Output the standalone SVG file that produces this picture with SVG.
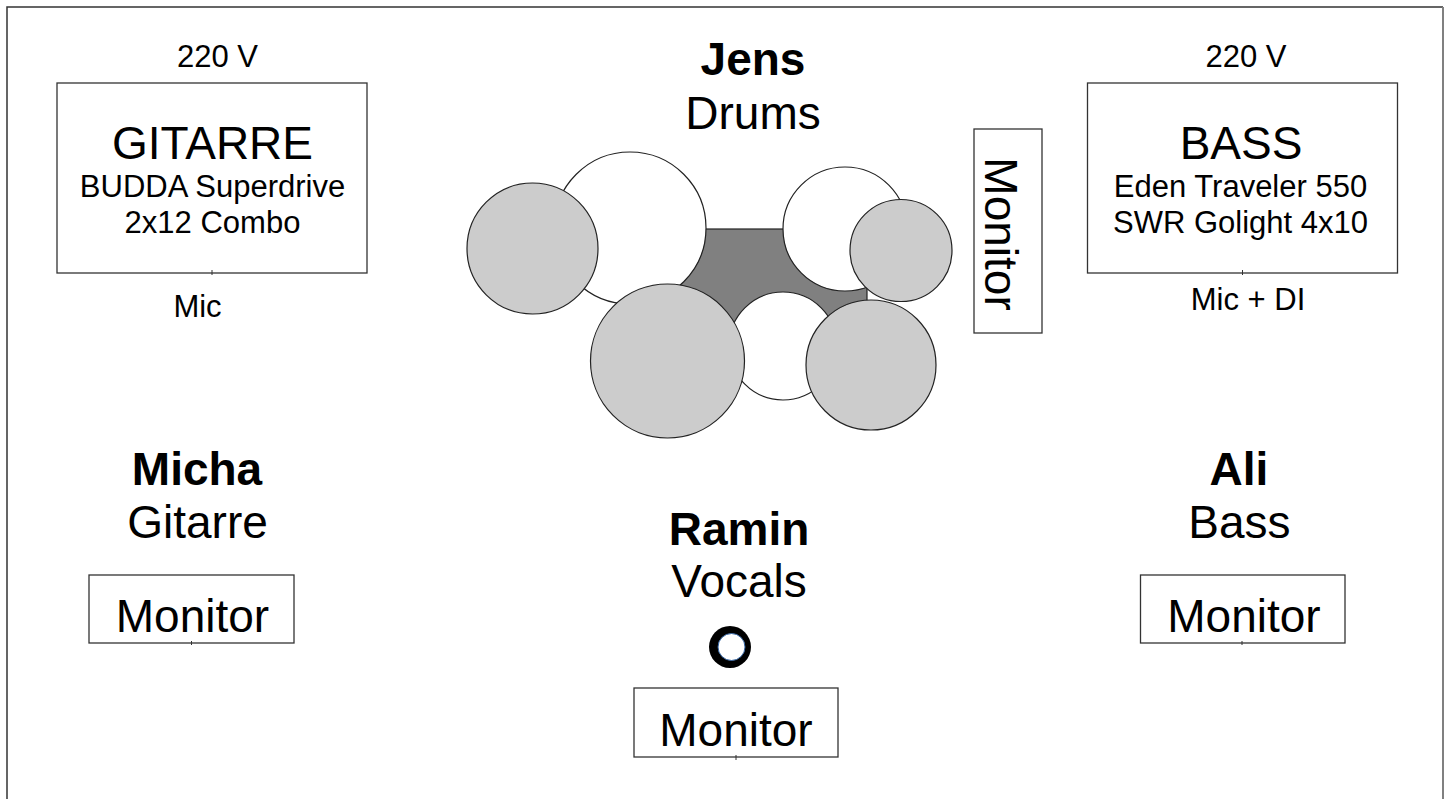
<svg xmlns="http://www.w3.org/2000/svg" width="1450" height="799" viewBox="0 0 1450 799">
<style>
text{font-family:"Liberation Sans",Arial,sans-serif;fill:#000;text-anchor:middle}
.big{font-size:46px}
.sm{font-size:31px}
.b{font-weight:bold}
.box{fill:#fff;stroke:#333;stroke-width:1.3}
.dw{fill:#fff;stroke:#222;stroke-width:1.2}
.dg{fill:#cccccc;stroke:#222;stroke-width:1.2}
.tick{stroke:#333;stroke-width:1}
</style>
<rect x="0" y="0" width="1450" height="799" fill="#fff"/>
<g id="frame">
<path d="M7,799 V7 H1443" fill="none" stroke="#333" stroke-width="1.5"/>
<path d="M1443,7 V799" fill="none" stroke="#808080" stroke-width="2"/>
</g>
<g id="guitar-amp">
<text class="sm" x="217.5" y="67">220 V</text>
<rect class="box" x="57" y="83" width="310" height="190"/>
<line class="tick" x1="212" y1="270" x2="212" y2="275"/>
<text class="big" x="212.5" y="159">GITARRE</text>
<text class="sm" x="212.5" y="197">BUDDA Superdrive</text>
<text class="sm" x="212.5" y="233">2x12 Combo</text>
<text class="sm" x="197.5" y="317">Mic</text>
</g>
<g id="bass-amp">
<text class="sm" x="1246" y="67">220 V</text>
<rect class="box" x="1087.5" y="83" width="310" height="190"/>
<line class="tick" x1="1242.5" y1="270" x2="1242.5" y2="275"/>
<text class="big" x="1241" y="159">BASS</text>
<text class="sm" x="1240.5" y="197">Eden Traveler 550</text>
<text class="sm" x="1240.5" y="233">SWR Golight 4x10</text>
<text class="sm" x="1248" y="310">Mic + DI</text>
</g>
<g id="drummer">
<text class="big b" x="753" y="75">Jens</text>
<text class="big" x="753" y="129">Drums</text>
</g>
<g id="drumkit">
<rect x="680" y="229" width="187" height="101" fill="#808080" stroke="#222" stroke-width="1.2"/>
<circle class="dw" cx="630" cy="228" r="76"/>
<circle class="dw" cx="845" cy="229" r="62"/>
<circle class="dw" cx="783" cy="346" r="54"/>
<circle class="dg" cx="532.5" cy="248.5" r="65.5"/>
<circle class="dg" cx="901" cy="250.5" r="51"/>
<circle class="dg" cx="667.5" cy="361" r="77"/>
<circle class="dg" cx="871" cy="365" r="65"/>
</g>
<g id="drum-monitor">
<rect class="box" x="974" y="129" width="68" height="204"/>
<text class="big" transform="translate(985,234) rotate(90)" x="0" y="0">Monitor</text>
</g>
<g id="guitarist">
<text class="big b" x="197" y="485">Micha</text>
<text class="big" x="197.5" y="538">Gitarre</text>
</g>
<g id="guitar-monitor">
<rect class="box" x="89" y="575" width="205" height="68"/>
<line class="tick" x1="191.5" y1="641" x2="191.5" y2="645"/>
<text class="big" x="192.5" y="632">Monitor</text>
</g>
<g id="bassist">
<text class="big b" x="1239" y="485">Ali</text>
<text class="big" x="1239.5" y="538">Bass</text>
</g>
<g id="bass-monitor">
<rect class="box" x="1140.5" y="575" width="204.5" height="68"/>
<line class="tick" x1="1242" y1="641" x2="1242" y2="645"/>
<text class="big" x="1244" y="632">Monitor</text>
</g>
<g id="singer">
<text class="big b" x="739" y="545">Ramin</text>
<text class="big" x="739" y="597">Vocals</text>
</g>
<g id="vocal-mic">
<circle cx="730" cy="647" r="21" fill="#000"/>
<circle cx="731.5" cy="647" r="13.5" fill="#fff" stroke="#3465a4" stroke-width="1"/>
</g>
<g id="vocal-monitor">
<rect class="box" x="634" y="688" width="204" height="69"/>
<line class="tick" x1="736" y1="755" x2="736" y2="760"/>
<text class="big" x="736" y="746">Monitor</text>
</g>
<g id="connectors"></g>
</svg>
